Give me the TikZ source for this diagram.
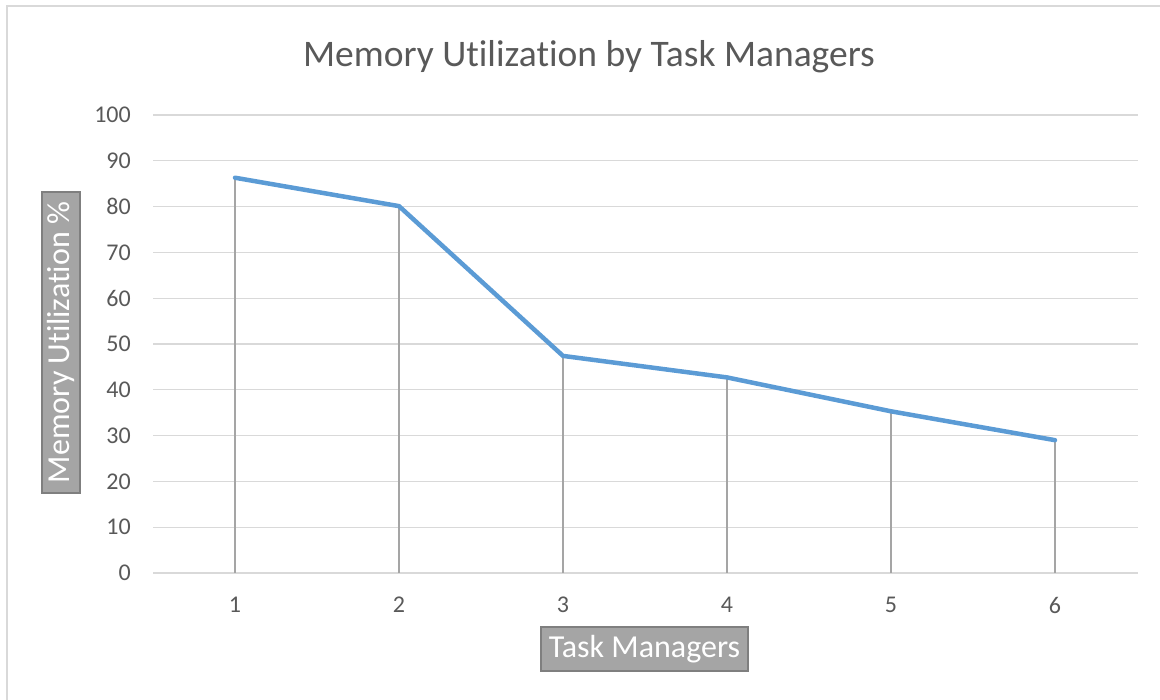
\documentclass[tikz,border=0pt]{standalone}
\usepackage{fontspec}
\setmainfont[Ligatures=CommonOff]{Carlito}
\definecolor{gridc}{HTML}{D9D9D9}
\definecolor{dropc}{HTML}{A5A5A5}
\definecolor{linec}{HTML}{5B9BD5}
\definecolor{textc}{HTML}{595959}
\definecolor{boxfill}{HTML}{A5A5A5}
\definecolor{boxdraw}{HTML}{7F7F7F}
\definecolor{framec}{HTML}{D9D9D9}
\begin{document}
\begin{tikzpicture}[x=1pt,y=1pt,
  grid line/.style={draw=gridc,line width=1.3pt},
  drop line/.style={draw=dropc,line width=1.3pt},
  series/.style={draw=linec,line width=4.5pt,line join=round,line cap=round},
  ticklabel/.style={text=textc,font=\fontsize{24}{26}\selectfont,inner sep=0pt},
  axistitle/.style={fill=boxfill,draw=boxdraw,line width=1.5pt,text=white,
    font=\fontsize{32}{34}\selectfont,inner sep=0pt},
  charttitle/.style={text=textc,font=\fontsize{37.5}{40}\selectfont,inner sep=0pt}]
\useasboundingbox (0,0) rectangle (1160,700);
% chart frame
\draw[framec,line width=1.3pt] (7,-10) -- (7,694) -- (1170,694);
% horizontal gridlines and value labels (value v at y = 127 + 4.58 v)
\foreach \v in {0,10,...,100}{
  \draw[grid line] (153,{127+4.58*\v}) -- (1138,{127+4.58*\v});
  \node[ticklabel,anchor=east] (yl\v) at (131,{127+4.58*\v}) {\v};
}
% category labels
\foreach \k in {1,...,6}{
  \coordinate (base\k) at ({235+164*(\k-1)},127);
  \node[ticklabel] (xl\k) at ({235+164*(\k-1)},95) {\k};
}
% data points
\coordinate (p1) at (235,{127+4.58*86.3});
\coordinate (p2) at (399,{127+4.58*80.1});
\coordinate (p3) at (563,{127+4.58*47.4});
\coordinate (p4) at (727,{127+4.58*42.7});
\coordinate (p5) at (891,{127+4.58*35.3});
\coordinate (p6) at (1055,{127+4.58*29.0});
% drop lines
\foreach \k in {1,...,6}{
  \draw[drop line] (p\k) -- (base\k);
}
% series
\draw[series] (p1) -- (p2) -- (p3) -- (p4) -- (p5) -- (p6);
% titles
\node[charttitle] (title) at (589,643) {Memory Utilization by Task Managers};
\node[axistitle,minimum width=207,minimum height=44] (xtitle) at (644.5,51) {Task Managers};
\node[axistitle,minimum width=301,minimum height=38,rotate=90] (ytitle) at (61,357.5) {Memory Utilization \%};
\end{tikzpicture}
\end{document}
